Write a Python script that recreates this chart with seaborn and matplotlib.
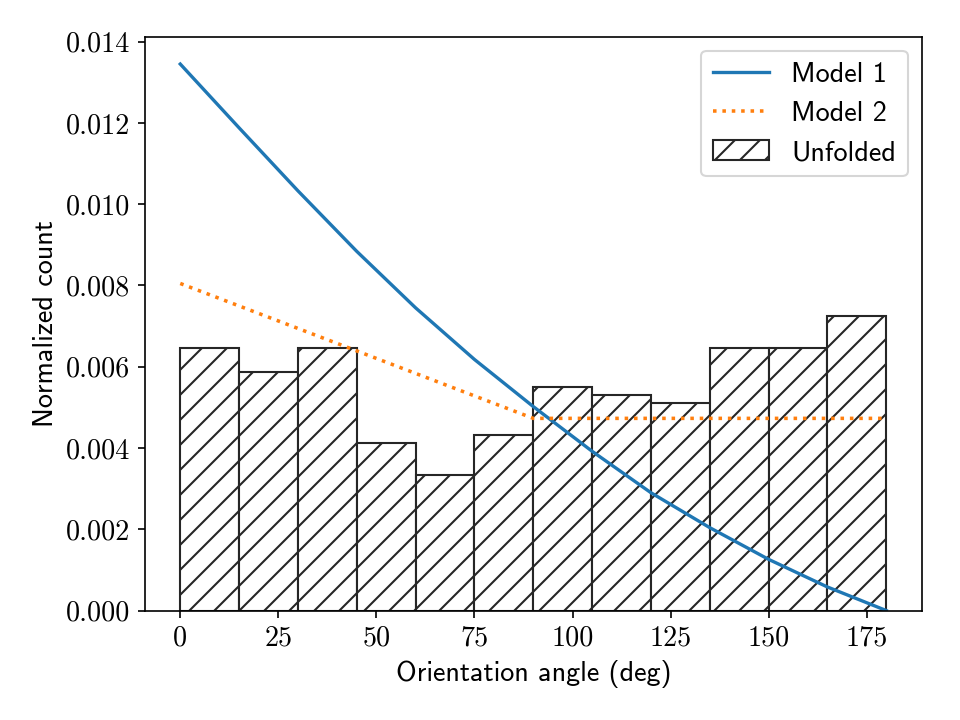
import numpy as np
import pandas as pd
import matplotlib
matplotlib.use("Agg")
import matplotlib.pyplot as plt
import seaborn as sns
from matplotlib.ticker import FormatStrFormatter

# ---- data ----
bin_edges = [0, 15, 30, 45, 60, 75, 90, 105, 120, 135, 150, 165, 180]
bin_counts = [33, 30, 33, 21, 17, 22, 28, 27, 26, 33, 33, 37]

model1_angle = [0, 15, 30, 45, 60, 75, 90, 105, 120, 135, 150, 165, 180]
model1_value = [0.01345, 0.01188, 0.01033, 0.00884, 0.00745, 0.00618, 0.00502,
                0.00392, 0.00290, 0.00204, 0.00126, 0.00058, 0.0]

model2_angle = [0, 90, 180]
model2_value = [0.00805, 0.00473, 0.00473]

x_ticks = [0, 25, 50, 75, 100, 125, 150, 175]

plt.rcParams["hatch.linewidth"] = 1.0
FS = 13.5
sans = ["cmss10", "DejaVu Sans"]
serif = ["cmr10", "DejaVu Serif"]

fig, ax = plt.subplots(figsize=(6.4, 4.8), dpi=150)
fig.subplots_adjust(left=0.151, right=0.960, top=0.949, bottom=0.152)

centers = [(a + b) / 2 for a, b in zip(bin_edges[:-1], bin_edges[1:])]
hist_df = pd.DataFrame({"angle": centers, "count": bin_counts})
sns.histplot(data=hist_df, x="angle", weights="count", bins=bin_edges,
             stat="density", ax=ax, facecolor="white", edgecolor="0.15",
             linewidth=1.0, hatch="//", alpha=1.0, label="Unfolded")

sns.lineplot(x=model1_angle, y=model1_value, ax=ax, color="#1f77b4",
             linewidth=1.6, label="Model 1")
sns.lineplot(x=model2_angle, y=model2_value, ax=ax, color="#ff7f0e",
             linewidth=1.7, linestyle=":", label="Model 2")

ax.set_xticks(x_ticks)
ax.yaxis.set_major_formatter(FormatStrFormatter("%.3f"))
for lab in ax.get_xticklabels() + ax.get_yticklabels():
    lab.set_fontfamily(serif)
    lab.set_fontsize(FS)

ax.set_xlabel("Orientation angle (deg)", fontfamily=sans, fontsize=FS)
ax.set_ylabel("Normalized count", fontfamily=sans, fontsize=FS)

handles, labels = ax.get_legend_handles_labels()
order = [labels.index("Model 1"), labels.index("Model 2"), labels.index("Unfolded")]
ax.legend([handles[i] for i in order], [labels[i] for i in order],
          loc="upper right", prop={"family": sans, "size": FS})

fig.savefig("out.png", dpi=150)
